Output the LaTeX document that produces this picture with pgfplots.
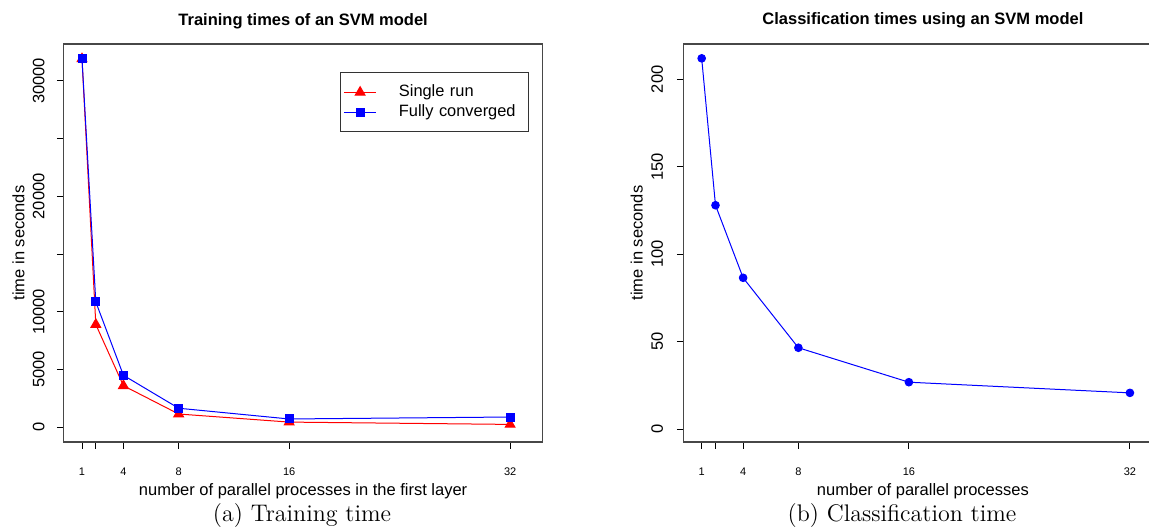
\documentclass[border=0pt]{standalone}
\usepackage{fontspec}
\usepackage{pgfplots}
\pgfplotsset{compat=1.18}
\newfontfamily\arial{Liberation Sans}
\definecolor{rred}{RGB}{255,0,0}
\definecolor{rblue}{RGB}{0,0,255}

\pgfplotstableread{
x y
1 31900
2 8900
4 3600
8 1150
16 450
32 250
}\singlerun
\pgfplotstableread{
x y
1 31900
2 10850
4 4500
8 1650
16 720
32 890
}\fullyconv
\pgfplotstableread{
x y
1 212
2 128
4 86.5
8 46.5
16 26.8
32 20.7
}\classif

\pgfplotsset{
  rstyle/.style={
    scale only axis, anchor=south west,
    width=239.6pt, height=199pt,
    axis line style={black!72, line width=0.7pt},
    tick align=outside, tick pos=left,
    major tick length=3.25pt,
    every tick/.style={black, line width=0.5pt},
    xtick={1,2,4,8,16,32}, xticklabels={1,,4,8,16,32},
    xticklabel style={font=\arial\fontsize{5.5}{6}\selectfont, anchor=base, yshift=-13.3pt},
    yticklabel style={font=\arial\fontsize{8.25}{9}\selectfont, rotate=90, anchor=base},
    scaled ticks=false,
    /pgf/number format/assume math mode=true,
    every axis title/.style={font=\arial\bfseries\fontsize{8.25}{9}\selectfont, at={(axis description cs:0.5,1)}, anchor=base, yshift=9.5pt},
    every axis x label/.style={font=\arial\fontsize{8.25}{9}\selectfont, at={(axis description cs:0.5,0)}, anchor=base, yshift=-26.5pt},
    every axis y label/.style={font=\arial\fontsize{8.25}{9}\selectfont, rotate=90, anchor=base},
    clip=false,
  }
}

\begin{document}
\begin{tikzpicture}
\useasboundingbox (0,0) rectangle (574.5pt,265.5pt);
\clip (0,0) rectangle (574.5pt,265.5pt);

\begin{axis}[rstyle,
  at={(31.75pt,44.5pt)},
  xmin=-0.34, xmax=34.36, ymin=-1274, ymax=33189,
  ytick={0,5000,10000,15000,20000,25000,30000},
  yticklabels={0,5000,10000,,20000,,30000},
  yticklabel style={yshift=6.3pt},
  every axis y label/.append style={at={(axis description cs:-0.0814,0.5)}},
  title={Training times of an SVM model},
  xlabel={number of parallel processes in the first layer},
  ylabel={time in seconds},
  legend cell align=left,
  legend style={at={(axis description cs:0.576,0.9286)}, anchor=north west,
    draw=black!80, line width=0.5pt,
    font=\arial\fontsize{8.2}{9}\selectfont,
    inner xsep=1.8pt, inner ysep=5.8pt, row sep=2.3pt,
    nodes={inner sep=0pt, text height=6pt, text depth=1.8pt},
    /tikz/every even column/.append style={text width=63pt}},
  legend image code/.code={%
    \draw[mark repeat=2,mark phase=2,#1] plot coordinates {(0pt,0pt) (8pt,0pt) (16pt,0pt)};
    \path (27.15pt,0pt);},
]
\addplot[rred, line width=0.5pt, mark=triangle*, mark size=2.8pt,
  mark options={solid, fill=rred, draw=rred}] table[x=x,y=y] {\singlerun};
\addlegendentry{Single run}
\addplot[rblue, line width=0.5pt, mark=square*, mark size=2pt,
  mark options={solid, fill=rblue, draw=rblue}] table[x=x,y=y] {\fullyconv};
\addlegendentry{Fully converged}
\end{axis}

\begin{axis}[rstyle,
  at={(341.65pt,44.5pt)},
  xmin=-0.33, xmax=34.36, ymin=-7.4, ymax=220.2,
  ytick={0,50,100,150,200},
  yticklabels={0,50,100,150,200},
  yticklabel style={yshift=7pt},
  every axis y label/.append style={at={(axis description cs:-0.0847,0.5)}},
  title={Classification times using an SVM model},
  xlabel={number of parallel processes},
  ylabel={time in seconds},
]
\addplot[rblue, line width=0.5pt, mark=*, mark size=1.9pt,
  mark options={solid, fill=rblue, draw=rblue}] table[x=x,y=y] {\classif};
\end{axis}

\node[font=\fontsize{12}{14}\selectfont, anchor=base] at (151pt,5pt) {(a) Training time};
\node[font=\fontsize{12}{14}\selectfont, anchor=base] at (451pt,5pt) {(b) Classification time};
\end{tikzpicture}
\end{document}
